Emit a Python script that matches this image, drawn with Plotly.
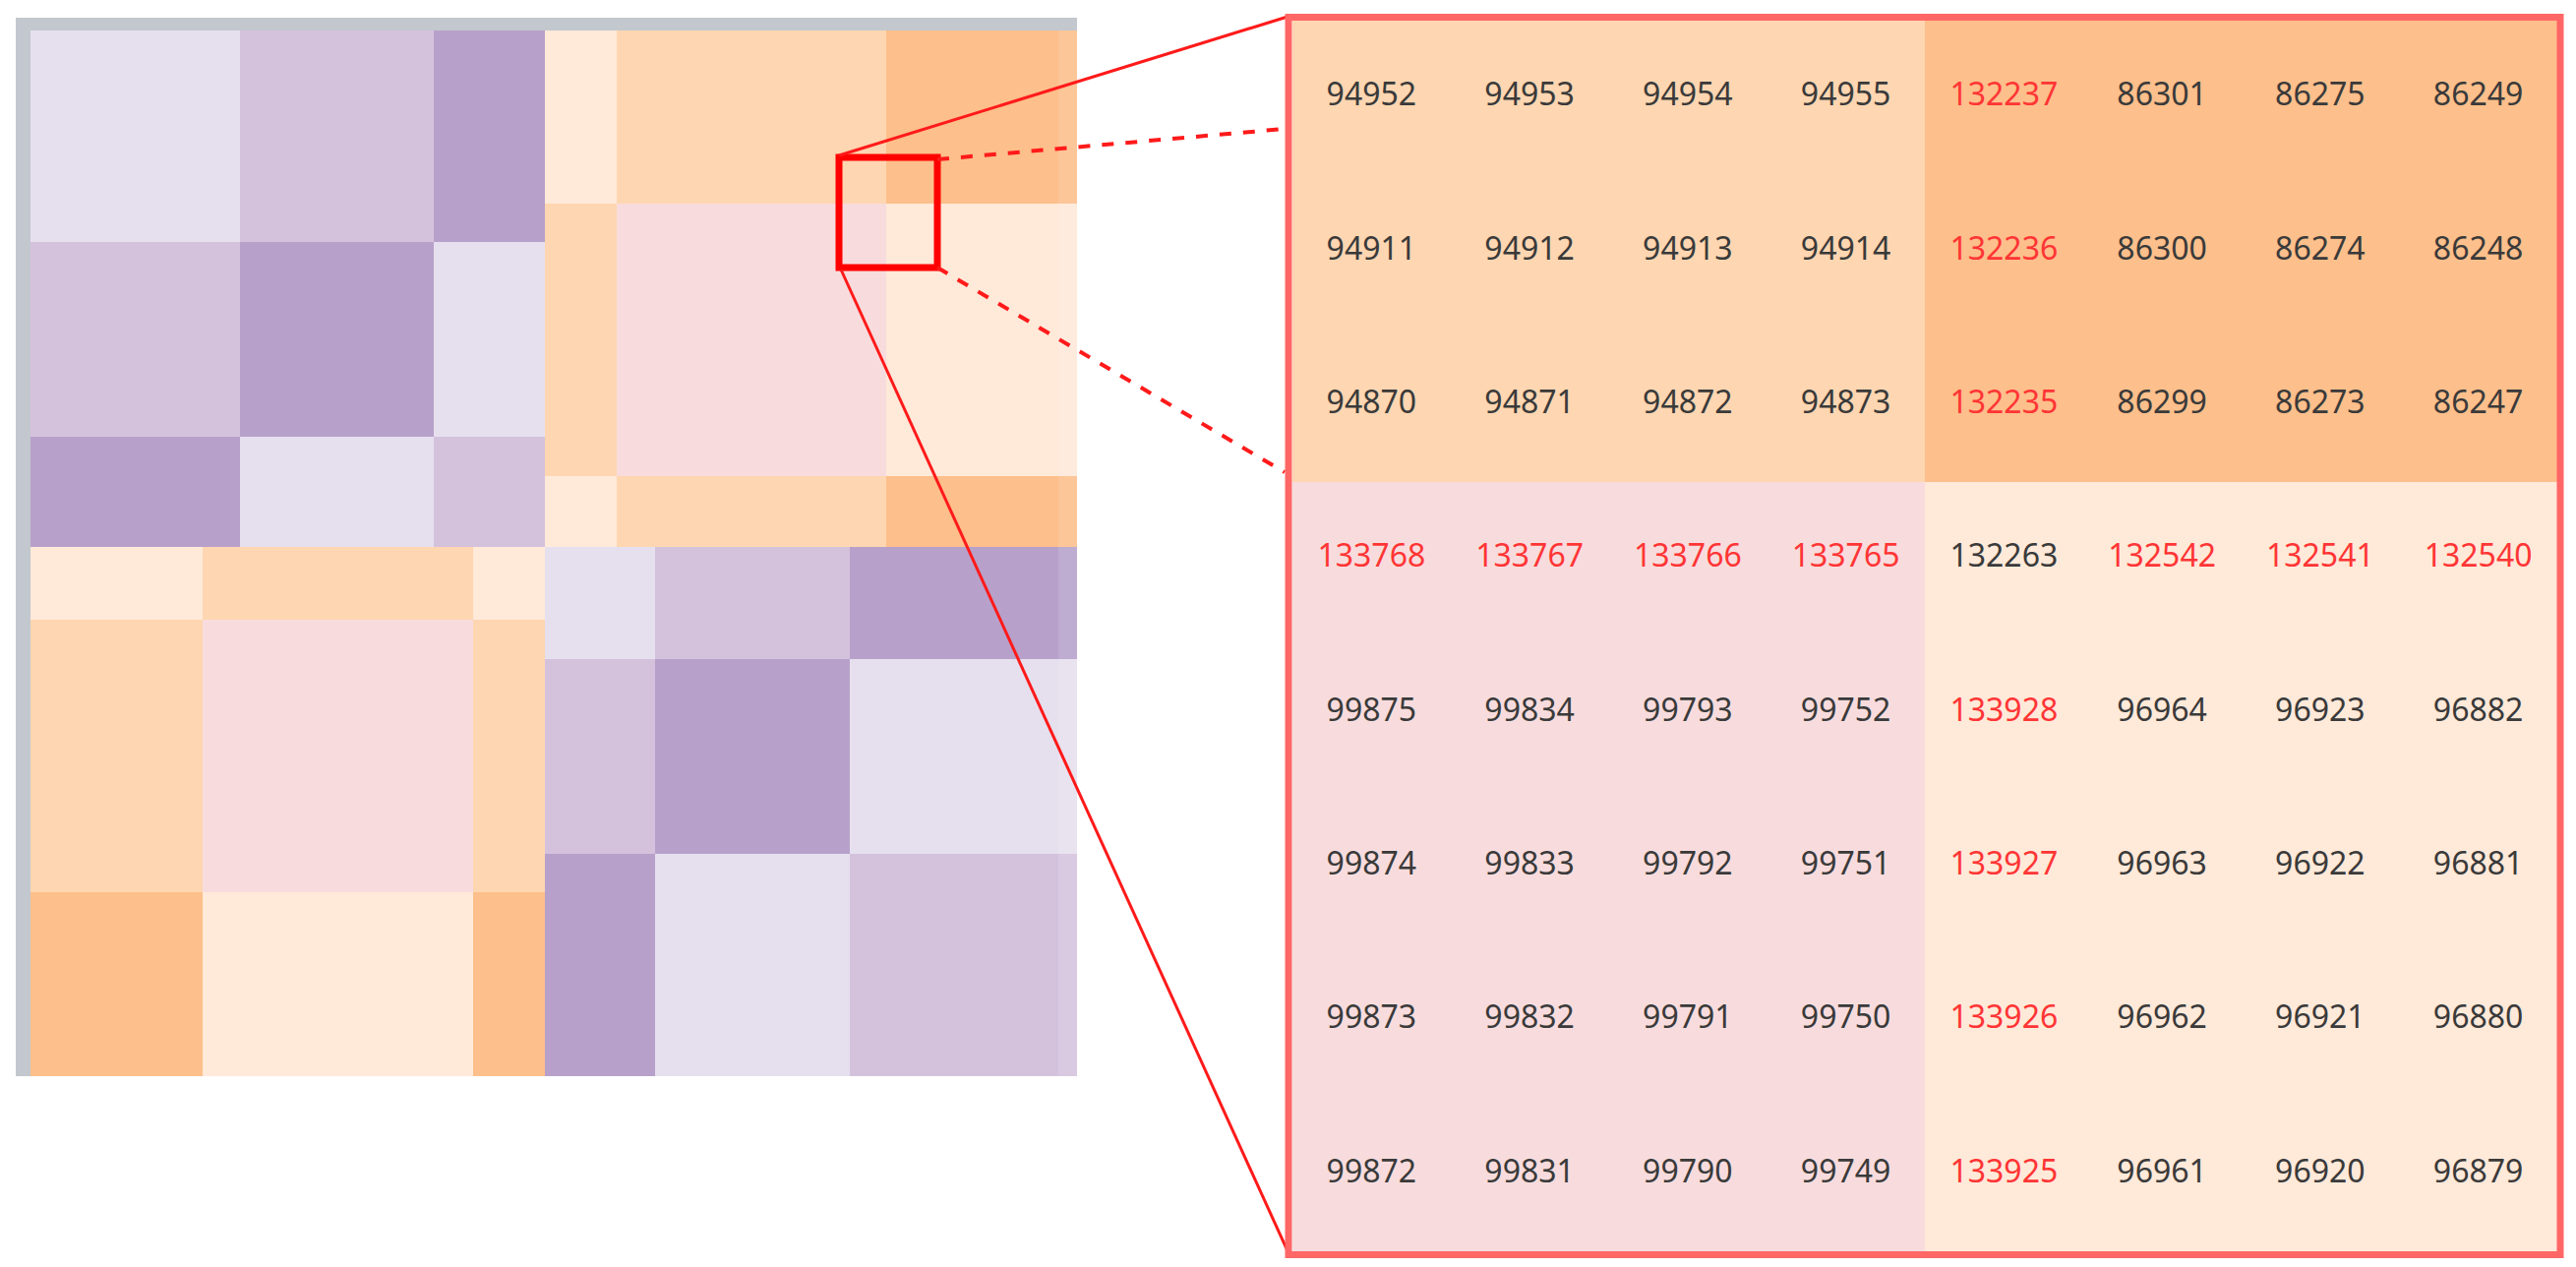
import plotly.graph_objects as go

W, H = 2619, 1288
PAGE_MARGIN = 8          # default body margin of the html page
FW, FH = W - 2 * PAGE_MARGIN, H - 2 * PAGE_MARGIN

# ---------------- data ----------------
# colour categories used by both panels
CAT_COLORS = ["#e6e0ee", "#d4c2dd", "#b7a1cb",   # light / mid / dark purple
              "#ffe9d9", "#fed6b1", "#fdbf8b",   # very light / light / dark orange
              "#f8dcdd"]                          # pink

# left overview heatmap: four quadrants, each a 3x3 block matrix
tl_cols = [213, 197, 113]
tl_rows = [215, 198, 112]
tl_z = [[0, 1, 2], [1, 2, 0], [2, 0, 1]]

tr_cols = [73, 274, 194]
tr_rows = [176, 277, 72]
tr_z = [[3, 4, 5], [4, 6, 3], [3, 4, 5]]

bl_cols = [175, 275, 73]
bl_rows = [74, 277, 187]
bl_z = [[3, 4, 3], [4, 6, 4], [5, 3, 5]]

br_cols = [112, 198, 231]
br_rows = [114, 198, 226]
br_z = [[0, 1, 2], [1, 2, 0], [2, 0, 1]]

# zoomed detail table (8 x 8)
detail_z = [[4, 4, 4, 4, 5, 5, 5, 5]] * 3 + [[6, 6, 6, 6, 3, 3, 3, 3]] * 5
detail_vals = [
    [94952, 94953, 94954, 94955, 132237, 86301, 86275, 86249],
    [94911, 94912, 94913, 94914, 132236, 86300, 86274, 86248],
    [94870, 94871, 94872, 94873, 132235, 86299, 86273, 86247],
    [133768, 133767, 133766, 133765, 132263, 132542, 132541, 132540],
    [99875, 99834, 99793, 99752, 133928, 96964, 96923, 96882],
    [99874, 99833, 99792, 99751, 133927, 96963, 96922, 96881],
    [99873, 99832, 99791, 99750, 133926, 96962, 96921, 96880],
    [99872, 99831, 99790, 99749, 133925, 96961, 96920, 96879],
]
detail_red = [
    [0, 0, 0, 0, 1, 0, 0, 0],
    [0, 0, 0, 0, 1, 0, 0, 0],
    [0, 0, 0, 0, 1, 0, 0, 0],
    [1, 1, 1, 1, 0, 1, 1, 1],
    [0, 0, 0, 0, 1, 0, 0, 0],
    [0, 0, 0, 0, 1, 0, 0, 0],
    [0, 0, 0, 0, 1, 0, 0, 0],
    [0, 0, 0, 0, 1, 0, 0, 0],
]

# ---------------- helpers ----------------
n = len(CAT_COLORS)
colorscale = []
for i, c in enumerate(CAT_COLORS):
    colorscale.append([i / n, c])
    colorscale.append([(i + 1) / n, c])


def edges(sizes, start):
    e = [start]
    for s in sizes:
        e.append(e[-1] + s)
    return e


def px(x):
    return (x - PAGE_MARGIN) / FW


def py(y):
    return 1 - (y - PAGE_MARGIN) / FH


fig = go.Figure()

left_w = sum(tl_cols)
top_h = sum(tl_rows)
quads = [
    (tl_cols, tl_rows, tl_z, 0, 0),
    (tr_cols, tr_rows, tr_z, left_w, 0),
    (bl_cols, bl_rows, bl_z, 0, top_h),
    (br_cols, br_rows, br_z, left_w, top_h),
]
for cols, rows, z, ox, oy in quads:
    fig.add_trace(go.Heatmap(
        x=edges(cols, ox), y=edges(rows, oy), z=z,
        colorscale=colorscale, zmin=-0.5, zmax=n - 0.5,
        showscale=False, hoverinfo="skip", xaxis="x", yaxis="y"))

total_w = left_w + sum(tr_cols)
total_h = top_h + sum(bl_rows)

# detail panel
fig.add_trace(go.Heatmap(
    z=detail_z, colorscale=colorscale, zmin=-0.5, zmax=n - 0.5,
    showscale=False, hoverinfo="skip", xaxis="x2", yaxis="y2"))

xs, ys, txt, cols_ = [], [], [], []
for r, row in enumerate(detail_vals):
    for c, v in enumerate(row):
        xs.append(c)
        ys.append(r)
        txt.append(str(v))
        cols_.append("#ff3535" if detail_red[r][c] else "#3a3a3a")
fig.add_trace(go.Scatter(
    x=xs, y=ys, text=txt, mode="text", xaxis="x2", yaxis="y2",
    textfont=dict(family="Noto Sans, Open Sans, sans-serif", size=32, color=cols_),
    hoverinfo="skip", showlegend=False))

# ---------------- layout ----------------
HX0, HX1, HY0, HY1 = 31, 1095, 31, 1094
RX0, RX1, RY0, RY1 = 1314, 2600, 21, 1272

shapes = []
# grey frame of overview panel
shapes.append(dict(type="rect", xref="paper", yref="paper",
                   x0=px(16), x1=px(HX1), y0=py(18), y1=py(HY0),
                   fillcolor="#c3c7ce", line=dict(width=0), layer="below"))
shapes.append(dict(type="rect", xref="paper", yref="paper",
                   x0=px(16), x1=px(HX0), y0=py(18), y1=py(HY1),
                   fillcolor="#c3c7ce", line=dict(width=0), layer="below"))
# right edge faint strip
shapes.append(dict(type="rect", xref="paper", yref="paper",
                   x0=px(1076), x1=px(HX1), y0=py(HY0), y1=py(HY1),
                   fillcolor="rgba(255,255,255,0.12)", line=dict(width=0)))

# small red selection box
bx0, bx1, by0, by1 = 853, 953, 160, 272
shapes.append(dict(type="rect", xref="paper", yref="paper",
                   x0=px(bx0), x1=px(bx1), y0=py(by0), y1=py(by1),
                   line=dict(color="#ff0000", width=7)))

# connector lines
shapes.append(dict(type="line", xref="paper", yref="paper",
                   x0=px(bx0), y0=py(by0 - 2), x1=px(1309), y1=py(17),
                   line=dict(color="#ff1a1a", width=3)))
shapes.append(dict(type="line", xref="paper", yref="paper",
                   x0=px(bx1), y0=py(by0 + 2), x1=px(1306), y1=py(131),
                   line=dict(color="#ff1a1a", width=4, dash="dash")))
shapes.append(dict(type="line", xref="paper", yref="paper",
                   x0=px(bx1), y0=py(by1), x1=px(1306), y1=py(480),
                   line=dict(color="#ff1a1a", width=4, dash="dash")))
shapes.append(dict(type="line", xref="paper", yref="paper",
                   x0=px(bx0 + 2), y0=py(by1 + 2), x1=px(1311), y1=py(1276),
                   line=dict(color="#ff1a1a", width=3)))

# detail panel border
shapes.append(dict(type="rect", xref="paper", yref="paper",
                   x0=px(1310), x1=px(2603), y0=py(17.5), y1=py(1275.5),
                   line=dict(color="#ff6666", width=7)))

fig.update_layout(
    width=FW, height=FH,
    margin=dict(l=0, r=0, t=0, b=0),
    paper_bgcolor="white", plot_bgcolor="rgba(0,0,0,0)",
    showlegend=False,
    xaxis=dict(domain=[px(HX0), px(HX1)], range=[0, total_w], visible=False,
               fixedrange=True),
    yaxis=dict(domain=[py(HY1), py(HY0)], range=[total_h, 0], visible=False,
               fixedrange=True),
    xaxis2=dict(domain=[px(RX0), px(RX1)], range=[-0.5, 7.5], visible=False,
                fixedrange=True),
    yaxis2=dict(domain=[py(RY1), py(RY0)], range=[7.5, -0.5], visible=False,
                fixedrange=True),
    shapes=shapes,
)

fig.write_html("out.html")
